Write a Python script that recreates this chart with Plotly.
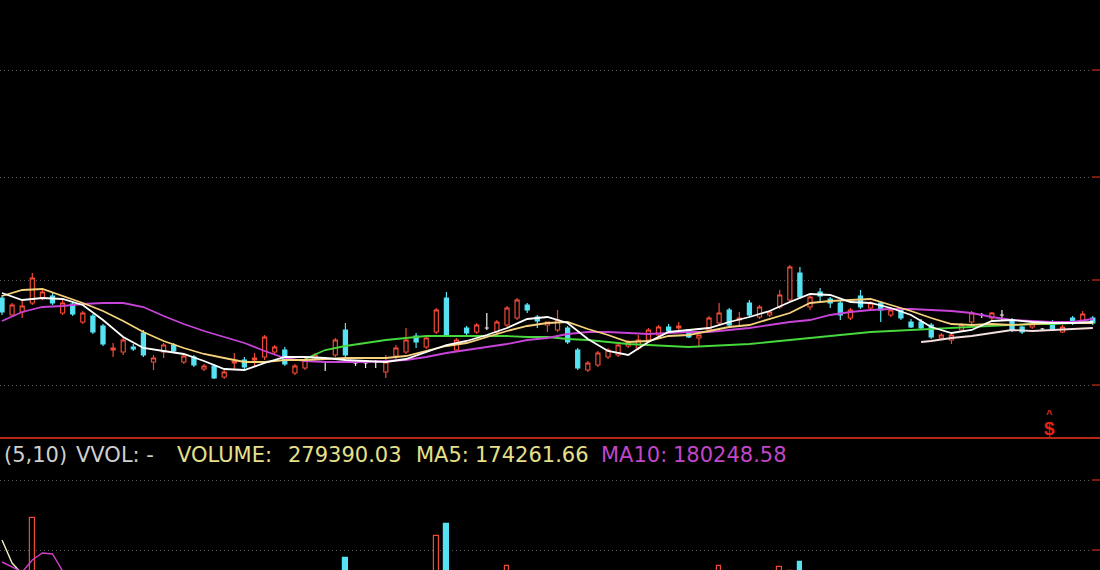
import plotly.graph_objects as go

# ---------------- data ----------------
open_ = [30.2, 28.5, 28.8, 29.7, 30.2, 30.4, 28.7, 29.6, 27.8, 28.4,
         27.4, 25.0, 24.8, 25.3, 26.7, 23.8, 24.8, 25.5, 23.8, 24.3,
         23.1, 23.4, 22.3, 23.7, 24.0, 24.0, 24.3, 24.8, 25.0, 22.7,
         23.2, 24.2, 23.8, 24.5, 27.0, 23.7, 23.7, 23.8, 22.8, 24.4,
         24.8, 26.4, 25.3, 26.8, 30.2, 25.0, 27.2, 26.8, 27.2, 26.8,
         27.5, 28.2, 29.5, 28.3, 27.5, 27.0, 27.2, 25.0, 23.0, 23.5,
         24.3, 24.5, 25.4, 25.2, 26.0, 26.5, 27.3, 27.2, 27.0, 26.2,
         27.0, 27.7, 29.0, 28.0, 29.7, 28.3, 28.5, 29.3, 30.0, 32.7,
         29.3, 30.8, 30.1, 29.7, 28.2, 30.4, 29.2, 29.7, 28.5, 29.0,
         27.8, 27.8, 27.5, 26.2, 26.0, 27.0, 27.8, 28.5, 28.2, 28.5,
         28.0, 27.3, 27.3, 27.1, 27.8, 26.8, 28.2, 27.8, 28.2]
high = [30.5, 29.7, 30.0, 32.7, 31.0, 30.7, 30.2, 29.9, 28.9, 28.6,
        27.6, 25.7, 26.3, 25.6, 27.0, 24.5, 25.7, 25.7, 24.6, 24.5,
        23.6, 23.6, 23.0, 24.7, 24.3, 24.7, 26.5, 25.5, 25.3, 23.6,
        24.2, 24.7, 23.8, 26.2, 27.7, 23.9, 24.0, 24.0, 24.5, 25.5,
        27.2, 26.7, 26.4, 29.2, 30.8, 26.2, 27.4, 27.7, 28.7, 28.0,
        29.4, 30.2, 29.7, 28.5, 27.8, 29.0, 27.4, 25.2, 23.9, 24.9,
        25.2, 25.7, 26.0, 26.5, 27.2, 27.5, 27.6, 27.8, 27.1, 26.5,
        28.4, 29.7, 29.2, 28.8, 30.0, 29.5, 29.0, 31.0, 33.5, 33.3,
        30.5, 31.2, 30.3, 29.9, 29.2, 31.0, 29.9, 29.9, 29.2, 29.2,
        28.1, 28.1, 27.7, 26.7, 26.6, 27.7, 28.9, 28.7, 28.8, 29.0,
        28.2, 27.4, 27.8, 27.2, 28.0, 27.5, 28.4, 28.9, 28.4]
low = [28.5, 28.3, 28.2, 29.5, 30.0, 29.5, 28.5, 28.4, 27.6, 26.6,
       25.4, 24.3, 24.5, 24.9, 24.3, 23.0, 24.2, 24.8, 23.6, 23.3,
       22.9, 22.1, 22.1, 23.0, 23.0, 23.3, 24.0, 24.5, 23.4, 22.5,
       23.0, 24.0, 22.9, 24.3, 24.3, 23.4, 23.2, 23.2, 22.2, 24.1,
       24.6, 25.2, 25.1, 26.6, 26.3, 24.8, 26.5, 26.6, 27.0, 26.6,
       27.3, 28.0, 28.7, 27.2, 26.8, 26.8, 25.6, 23.0, 22.8, 23.3,
       24.1, 24.3, 25.2, 25.0, 25.8, 26.3, 26.6, 26.8, 26.2, 25.3,
       26.8, 27.5, 27.3, 27.5, 28.3, 28.1, 28.3, 29.1, 29.8, 30.1,
       29.0, 29.8, 29.2, 28.0, 28.0, 29.1, 29.0, 27.8, 28.3, 28.0,
       27.2, 27.1, 26.1, 26.0, 25.6, 26.8, 27.6, 28.2, 28.0, 28.0,
       26.8, 26.6, 27.1, 27.0, 26.9, 26.7, 27.5, 27.6, 27.5]
close = [28.8, 29.5, 29.4, 32.2, 30.8, 29.7, 29.7, 28.6, 28.7, 26.8,
         25.6, 25.2, 26.0, 25.1, 24.5, 24.2, 25.5, 24.9, 24.4, 23.5,
         23.4, 22.2, 22.8, 23.9, 23.3, 24.2, 26.3, 25.3, 23.6, 23.4,
         24.0, 24.5, 23.8, 26.0, 24.5, 23.7, 23.7, 23.8, 23.8, 25.2,
         26.0, 25.8, 26.2, 29.0, 26.5, 26.0, 26.7, 27.5, 27.2, 27.8,
         29.2, 30.0, 29.0, 27.9, 27.8, 28.0, 25.8, 23.2, 23.7, 24.7,
         25.0, 25.5, 25.8, 26.0, 27.0, 27.3, 26.9, 27.4, 26.3, 26.5,
         28.2, 28.7, 27.5, 28.2, 28.5, 29.3, 28.8, 30.5, 33.3, 30.3,
         30.3, 30.4, 29.7, 28.5, 29.0, 29.3, 29.7, 29.0, 29.0, 28.2,
         27.3, 27.2, 26.3, 26.5, 26.5, 27.5, 28.7, 28.5, 28.7, 28.5,
         27.0, 26.8, 27.6, 27.1, 27.0, 27.3, 27.7, 28.6, 27.7]
volume = [82000, 76000, 70000, 204000, 88000, 72000, 80000, 66000, 74000, 78000,
          84000, 60000, 70000, 52000, 86000, 58000, 64000, 56000, 60000, 62000,
          50000, 66000, 54000, 58000, 56000, 60000, 90000, 62000, 70000, 58000,
          60000, 54000, 50000, 88000, 124000, 48000, 46000, 50000, 66000, 70000,
          82000, 64000, 68000, 168000, 192000, 76000, 62000, 66000, 70000, 72000,
          108000, 96000, 70000, 64000, 58000, 74000, 80000, 94000, 62000, 68000,
          60000, 66000, 58000, 62000, 70000, 66000, 56000, 60000, 58000, 54000,
          86000, 108000, 84000, 62000, 80000, 70000, 66000, 106000, 98000, 116000,
          78000, 70000, 62000, 74000, 60000, 76000, 58000, 66000, 56000, 60000,
          58000, 54000, 70000, 50000, 56000, 60000, 72000, 52000, 56000, 58000,
          62000, 54000, 50000, 46000, 58000, 52000, 56000, 64000, 60000]

ma_x = list(range(0, 109, 2))
ma5 = [30.7, 30.0, 30.2, 30.1, 29.5, 28.0, 26.3, 25.2, 24.9, 24.6,
       23.9, 23.1, 23.0, 23.7, 24.3, 24.3, 24.2, 24.0, 23.9, 23.8,
       24.1, 24.8, 25.5, 25.9, 26.5, 27.2, 28.1, 28.3, 27.7, 26.1,
       24.9, 24.5, 25.8, 26.8, 27.0, 27.2, 27.8, 28.3, 28.9, 29.8,
       30.6, 30.5, 29.8, 29.7, 29.2, 28.5, 27.3, 26.7, 27.0, 27.9,
       28.0, 27.8, 27.7, 27.7, 27.8]
ma10 = [30.4, 31.0, 31.1, 30.4, 29.7, 28.9, 27.9, 26.8, 25.9, 25.2,
        24.6, 24.2, 23.8, 23.8, 24.0, 24.0, 24.1, 24.2, 24.2, 24.2,
        24.4, 24.9, 25.4, 25.7, 26.3, 26.9, 27.4, 27.7, 27.8, 27.1,
        26.5, 25.8, 25.9, 26.4, 26.5, 26.9, 27.3, 27.5, 28.1, 28.7,
        29.7, 29.9, 30.0, 30.1, 29.5, 28.9, 28.2, 27.6, 27.5, 27.6,
        27.5, 27.6, 27.7, 27.7, 27.7]
ma20 = [27.9, 28.8, 29.3, 29.4, 29.6, 29.7, 29.7, 29.3, 28.4, 27.6,
        26.9, 26.3, 25.7, 24.9, 24.2, 23.9, 23.8, 23.8, 23.8, 23.9,
        24.0, 24.3, 24.7, 25.0, 25.3, 25.6, 26.0, 26.2, 26.6, 26.8,
        26.8, 26.7, 26.6, 26.7, 26.8, 26.8, 27.0, 27.2, 27.5, 27.8,
        28.0, 28.5, 28.8, 29.0, 29.1, 29.1, 29.0, 28.9, 28.7, 28.3,
        28.0, 27.9, 27.8, 27.8, 28.1]
ma60_x = list(range(30, 109, 2))
ma60 = [24.1, 25.0, 25.4, 25.7, 26.0, 26.2, 26.4, 26.4, 26.4, 26.4,
        26.4, 26.3, 26.3, 26.1, 26.0, 25.8, 25.6, 25.5, 25.4, 25.3,
        25.4, 25.5, 25.6, 25.8, 26.0, 26.2, 26.4, 26.6, 26.8, 26.9,
        27.0, 27.1, 27.2, 27.3, 27.4, 27.5, 27.6, 27.6, 27.7, 27.7]
ma120_x = [91, 92, 94, 96, 98, 100, 102, 104, 106, 108]
ma120 = [25.8, 25.9, 26.2, 26.4, 26.7, 27.0, 26.9, 27.0, 27.1, 27.2]

vol_ma_x = [0, 1, 2, 3, 4, 5, 6, 7, 8]
vol_ma5 = [160000, 114000, 92000, 90000, 88000, 85000, 80000, 78000, 76000]
vol_ma10 = [116000, 106000, 96000, 120000, 134000, 132000, 98000, 92000, 88000]

price_grid = [21.5, 32.0, 42.3, 53.0]
vol_grid = [140000, 280000]

labels_grey = ["(5,10)", "VVOL: -"]
labels_yellow = ["VOLUME:", "279390.03", "MA5:", "174261.66"]
labels_magenta = ["MA10:", "180248.58"]

# ---------------- styling ----------------
RED = "#f04a36"
CYAN = "#56e2f2"
W, H = 1100, 570


def px_x(p):
    return p / W


def px_y(p):
    return 1 - p / H


n = len(open_)
idx = list(range(n))
up = [i for i in idx if close[i] > open_[i]]
dn = [i for i in idx if close[i] < open_[i]]
fl = [i for i in idx if close[i] == open_[i]]


def sub(arr, ids):
    return [arr[i] for i in ids]


fig = go.Figure()

# volume bars
for ids, col, fill in [(up, RED, "black"), (dn, CYAN, CYAN), (fl, "#e0e0e0", "#e0e0e0")]:
    fig.add_trace(go.Bar(x=ids, y=sub(volume, ids), width=0.45,
                         marker=dict(color=fill, line=dict(color=col, width=1.2)),
                         xaxis="x", yaxis="y2", hoverinfo="skip"))
fig.add_trace(go.Scatter(x=vol_ma_x, y=vol_ma5, mode="lines",
                         line=dict(color="#f4eec0", width=1.4), xaxis="x", yaxis="y2"))
fig.add_trace(go.Scatter(x=vol_ma_x, y=vol_ma10, mode="lines",
                         line=dict(color="#d040c8", width=1.4), xaxis="x", yaxis="y2"))

# candles
for ids, col, fill in [(up, RED, "black"), (dn, CYAN, CYAN), (fl, "#f0f0f0", "#f0f0f0")]:
    fig.add_trace(go.Candlestick(
        x=ids, open=sub(open_, ids), high=sub(high, ids), low=sub(low, ids), close=sub(close, ids),
        increasing=dict(line=dict(color=col, width=1.2), fillcolor=fill),
        decreasing=dict(line=dict(color=col, width=1.2), fillcolor=fill),
        xaxis="x", yaxis="y", hoverinfo="skip"))

# moving averages
fig.add_trace(go.Scatter(x=ma60_x, y=ma60, mode="lines", line=dict(color="#46d83c", width=1.8)))
fig.add_trace(go.Scatter(x=ma_x, y=ma20, mode="lines", line=dict(color="#c844d8", width=1.8)))
fig.add_trace(go.Scatter(x=ma_x, y=ma10, mode="lines", line=dict(color="#f6d27c", width=1.8)))
fig.add_trace(go.Scatter(x=ma_x, y=ma5, mode="lines", line=dict(color="#ffffff", width=1.8)))
fig.add_trace(go.Scatter(x=ma120_x, y=ma120, mode="lines", line=dict(color="#f4dede", width=1.8)))

shapes = []
# separator red line
shapes.append(dict(type="line", xref="paper", yref="paper", x0=0, x1=1,
                   y0=px_y(438), y1=px_y(438), line=dict(color="#b42818", width=2)))
# red marks at right end of grid lines
for g in price_grid:
    shapes.append(dict(type="line", xref="paper", yref="y", x0=px_x(1092), x1=1,
                       y0=g, y1=g, line=dict(color="#7a1a10", width=2)))
for g in vol_grid:
    shapes.append(dict(type="line", xref="paper", yref="y2", x0=px_x(1092), x1=1,
                       y0=g, y1=g, line=dict(color="#7a1a10", width=2)))

ann = []
FONT = "DejaVu Sans, Verdana, sans-serif"
FS = 21
grey_pos = [2, 74]
yellow_pos = [175, 286, 414, 473]
mag_pos = [599, 671]
for t, p in zip(labels_grey, grey_pos):
    ann.append(dict(text=t, x=px_x(p), y=px_y(455), xref="paper", yref="paper",
                    xanchor="left", yanchor="middle", showarrow=False,
                    font=dict(family=FONT, size=FS, color="#cfcfcf")))
for t, p in zip(labels_yellow, yellow_pos):
    ann.append(dict(text=t, x=px_x(p), y=px_y(455), xref="paper", yref="paper",
                    xanchor="left", yanchor="middle", showarrow=False,
                    font=dict(family=FONT, size=FS, color="#e6e08a")))
for t, p in zip(labels_magenta, mag_pos):
    ann.append(dict(text=t, x=px_x(p), y=px_y(455), xref="paper", yref="paper",
                    xanchor="left", yanchor="middle", showarrow=False,
                    font=dict(family=FONT, size=FS, color="#c246c8")))
ann.append(dict(text="<b>$</b>", x=px_x(1049), y=px_y(428), xref="paper", yref="paper",
                xanchor="center", yanchor="middle", showarrow=False,
                font=dict(family="Liberation Sans, Arial, sans-serif", size=19, color="#e02418")))
ann.append(dict(text="<b>^</b>", x=px_x(1049), y=px_y(414), xref="paper", yref="paper",
                xanchor="center", yanchor="middle", showarrow=False,
                font=dict(family="Liberation Sans, Arial, sans-serif", size=11, color="#e02418")))

fig.update_layout(
    width=W, height=H, margin=dict(l=0, r=0, t=0, b=0),
    paper_bgcolor="black", plot_bgcolor="black",
    showlegend=False, boxgap=0.42, bargap=0, barmode="overlay",
    xaxis=dict(range=[-0.198, 108.71], showgrid=False, zeroline=False, showticklabels=False,
               rangeslider=dict(visible=False), fixedrange=True, showline=False, ticks=""),
    yaxis=dict(domain=[px_y(437), 1], range=[16.3, 60], tickvals=price_grid,
               showticklabels=False, gridcolor="#5a5a5a", griddash="1px,3px", gridwidth=1,
               zeroline=False, showline=False, ticks=""),
    yaxis2=dict(domain=[0, px_y(468)], range=[100000, 304000], tickvals=vol_grid,
                showticklabels=False, gridcolor="#5a5a5a", griddash="1px,3px", gridwidth=1,
                zeroline=False, showline=False, ticks=""),
    shapes=shapes, annotations=ann,
)

fig.write_html("out.html", config={"displayModeBar": False},
               post_script="document.body.style.margin='0';document.body.style.background='black';document.body.style.overflow='hidden';")
